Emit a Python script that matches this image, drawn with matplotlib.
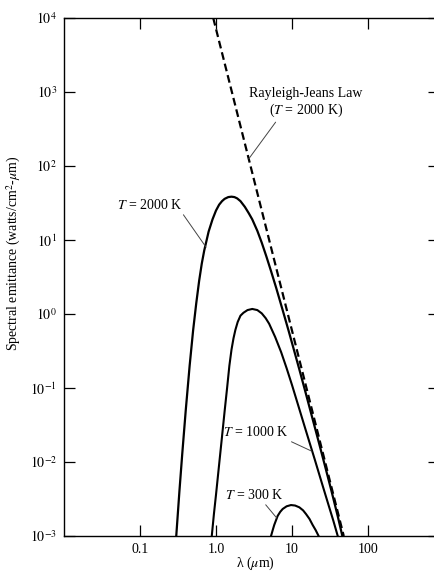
import numpy as np
import matplotlib
matplotlib.use('Agg')
import matplotlib.pyplot as plt

plt.rcParams['font.family'] = ['Liberation Serif', 'DejaVu Serif']
plt.rcParams['mathtext.fontset'] = 'stix'

# spectral emittance curves (lambda in um, watts/cm^2-um)
lam_2000 = [0.30, 0.33, 0.36, 0.40, 0.45, 0.50, 0.55, 0.60, 0.65, 0.70, 0.80, 0.90,
            1.0, 1.1, 1.2, 1.3, 1.45, 1.6, 1.75, 1.9, 2.1, 2.4, 2.7, 3.0, 3.5, 4.0,
            4.6, 5.3, 6.2, 7.5, 9.0, 10.5, 12.5, 15, 18, 22, 27, 33, 40, 46]
em_2000 = [1.0e-3, 4.0e-3, 1.3e-2, 5.0e-2, 0.20, 0.60, 1.4, 2.8, 4.8, 7.2, 13, 19,
           25, 30, 33.5, 36, 38, 38.5, 38, 36.5, 33.5, 28, 23, 19, 13.3, 9.2,
           6.0, 3.8, 2.25, 1.15, 0.60, 0.34, 0.178, 0.089, 0.044, 0.0203, 9.1e-3, 4.1e-3, 1.85e-3, 1.0e-3]

lam_1000 = [0.88, 0.94, 1.0, 1.1, 1.2, 1.3, 1.4, 1.5, 1.6, 1.7, 1.8, 1.93, 2.1, 2.3,
            2.6, 3.0, 3.5, 4.0, 4.5, 5.0, 6.0, 7.2, 8.5, 10, 12, 15, 20, 25, 30, 35, 40]
em_1000 = [1.0e-3, 2.0e-3, 3.6e-3, 9.3e-3, 0.022, 0.049, 0.10, 0.20, 0.33, 0.47, 0.61, 0.78, 0.95, 1.04,
           1.13, 1.17, 1.13, 1.02, 0.88, 0.74, 0.49, 0.305, 0.185, 0.11, 0.0595, 0.028, 0.0107, 5.0e-3,
           2.7e-3, 1.61e-3, 1.0e-3]

lam_300 = [5.3, 5.6, 5.84, 6.48, 7.0, 7.55, 8.5, 9.7, 11, 12.5, 14, 15.3, 17, 18.7, 20.5, 22.4]
em_300 = [1.0e-3, 1.22e-3, 1.41e-3, 1.87e-3, 2.12e-3, 2.32e-3, 2.52e-3, 2.62e-3, 2.58e-3, 2.44e-3,
          2.22e-3, 1.98e-3, 1.70e-3, 1.41e-3, 1.2e-3, 1.0e-3]

# Rayleigh-Jeans law, T = 2000 K (straight line on log-log)
lam_rj = [0.92, 48]
em_rj = [1.0e4, 1.0e-3]

x_ticks = [0.1, 1.0, 10, 100]
x_tick_labels = ['0.1', '1.0', '10', '100']
y_ticks = [1e-3, 1e-2, 1e-1, 1e0, 1e1, 1e2, 1e3, 1e4]
y_tick_labels = [r'$10^{-3}$', r'$10^{-2}$', r'$10^{-1}$', r'$10^{0}$',
                 r'$10^{1}$', r'$10^{2}$', r'$10^{3}$', r'$10^{4}$']

W, H = 435, 573
fig = plt.figure(figsize=(W / 100, H / 100), dpi=100)
ax = fig.add_axes([64 / W, 1 - 536 / H, (439 - 64) / W, (536 - 18) / H])

ax.plot(lam_2000, em_2000, color='black', lw=1.6, solid_joinstyle='round')
ax.plot(lam_1000, em_1000, color='black', lw=1.5, solid_joinstyle='round')
ax.plot(lam_300, em_300, color='black', lw=1.5, solid_joinstyle='round')
ax.plot(lam_rj, em_rj, color='black', lw=1.6, linestyle=(0, (3.5, 1.8)))

ax.set_xscale('log')
ax.set_yscale('log')
ax.set_xlim(0.01, 860)
ax.set_ylim(1e-3, 1e4)

ax.set_xticks(x_ticks)
ax.set_xticklabels(x_tick_labels)
ax.set_yticks(y_ticks)
ax.set_yticklabels(y_tick_labels)
ax.minorticks_off()
ax.tick_params(which='major', direction='in', length=8, width=0.9,
               top=True, right=True, labelsize=10, colors='black')
ax.tick_params(axis='x', pad=5)
ax.tick_params(axis='y', pad=5)
ax.spines['right'].set_visible(False)
for s in ['left', 'top', 'bottom']:
    ax.spines[s].set_linewidth(1.0)

fig.text(255 / W, 1 - 563 / H, r'λ ($\mu$m)', ha='center', va='center', fontsize=10)
fig.text(14 / W, 1 - 253 / H, r'Spectral emittance (watts/cm$^2$-$\mu$m)',
         rotation=90, ha='center', va='center', fontsize=10)

lead = dict(arrowstyle='-', lw=0.7, color='#444444', shrinkA=0, shrinkB=0)


def label(text, xy, px, py, relpos):
    ax.annotate(text, xy=xy, xycoords='data', xytext=(px, H - py), textcoords='figure pixels',
                ha='center', va='center', fontsize=10, multialignment='center',
                arrowprops=dict(lead, relpos=relpos))


label('Rayleigh-Jeans Law\n($T$ = 2000 K)', (2.7, 125), 306, 103, (0.25, 0.0))
label('$T$ = 2000 K', (0.74, 8.0), 150, 205, (0.98, 0.0))
label('$T$ = 1000 K', (18.2, 0.014), 256, 432, (0.95, 0.0))
label('$T$ = 300 K', (6.3, 1.75e-3), 254, 495, (0.66, 0.0))

fig.savefig('out.png', dpi=100)
